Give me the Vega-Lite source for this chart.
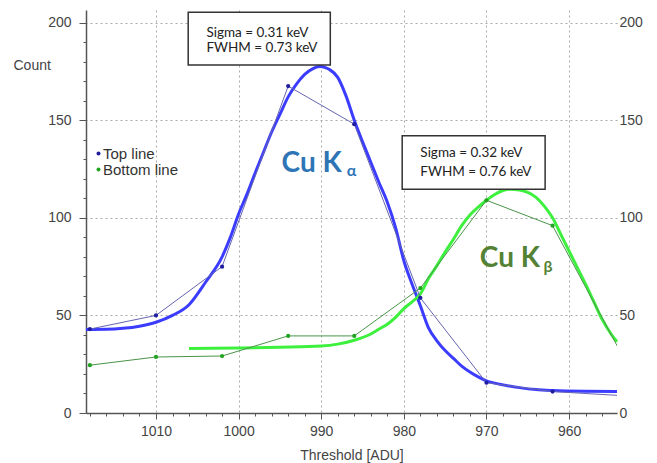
{
  "$schema": "https://vega.github.io/schema/vega-lite/v6.json",
  "width": 531,
  "height": 403,
  "autosize": {"type": "none"},
  "padding": {"left": 86, "top": 10, "right": 40, "bottom": 50},
  "background": "white",
  "config": {
    "view": {"stroke": null},
    "axis": {
      "labelFont": "Liberation Sans", "titleFont": "Liberation Sans",
      "labelFontSize": 14, "titleFontSize": 14, "titleFontWeight": "normal",
      "labelColor": "#444", "titleColor": "#444",
      "domainColor": "#555", "domainWidth": 1.5, "tickColor": "#555", "tickWidth": 1,
      "gridColor": "#aaa", "gridDash": [2, 3], "gridWidth": 1
    }
  },
  "datasets": {
    "pts": [
      {"s": "Top line", "x": 1018, "y": 43}, {"s": "Top line", "x": 1010, "y": 50}, {"s": "Top line", "x": 1002, "y": 75},
      {"s": "Top line", "x": 994, "y": 167.5}, {"s": "Top line", "x": 986, "y": 148}, {"s": "Top line", "x": 978, "y": 59},
      {"s": "Top line", "x": 970, "y": 15.5}, {"s": "Top line", "x": 962, "y": 11}, {"s": "Top line", "x": 954, "y": 9},
      {"s": "Bottom line", "x": 1018, "y": 24.5}, {"s": "Bottom line", "x": 1010, "y": 28.7}, {"s": "Bottom line", "x": 1002, "y": 29.2},
      {"s": "Bottom line", "x": 994, "y": 39.5}, {"s": "Bottom line", "x": 986, "y": 39.5}, {"s": "Bottom line", "x": 978, "y": 64},
      {"s": "Bottom line", "x": 970, "y": 109}, {"s": "Bottom line", "x": 962, "y": 96}, {"s": "Bottom line", "x": 954, "y": 33}
    ],
    "fit": [
      {"s": "Top", "x": 1018.47, "y": 42.8}, {"s": "Top", "x": 1016, "y": 42.9}, {"s": "Top", "x": 1014, "y": 43.4},
      {"s": "Top", "x": 1012, "y": 44.5}, {"s": "Top", "x": 1010, "y": 46.5}, {"s": "Top", "x": 1008, "y": 50},
      {"s": "Top", "x": 1006, "y": 55.5}, {"s": "Top", "x": 1004, "y": 67}, {"s": "Top", "x": 1002, "y": 80},
      {"s": "Top", "x": 1001, "y": 90}, {"s": "Top", "x": 1000, "y": 102}, {"s": "Top", "x": 999, "y": 112},
      {"s": "Top", "x": 998, "y": 123}, {"s": "Top", "x": 997, "y": 133.5}, {"s": "Top", "x": 996, "y": 144},
      {"s": "Top", "x": 995, "y": 153}, {"s": "Top", "x": 994, "y": 162}, {"s": "Top", "x": 993, "y": 168.5},
      {"s": "Top", "x": 992, "y": 173.5}, {"s": "Top", "x": 991, "y": 176.5}, {"s": "Top", "x": 990.2, "y": 177.5},
      {"s": "Top", "x": 989.5, "y": 177}, {"s": "Top", "x": 989, "y": 176}, {"s": "Top", "x": 988, "y": 172},
      {"s": "Top", "x": 987, "y": 162.5}, {"s": "Top", "x": 986, "y": 150}, {"s": "Top", "x": 985, "y": 139},
      {"s": "Top", "x": 984, "y": 128.5}, {"s": "Top", "x": 983, "y": 118}, {"s": "Top", "x": 982, "y": 108},
      {"s": "Top", "x": 981, "y": 95}, {"s": "Top", "x": 980, "y": 78}, {"s": "Top", "x": 979, "y": 66},
      {"s": "Top", "x": 978, "y": 55}, {"s": "Top", "x": 977, "y": 43.5}, {"s": "Top", "x": 976, "y": 37},
      {"s": "Top", "x": 975, "y": 32}, {"s": "Top", "x": 974, "y": 28}, {"s": "Top", "x": 973, "y": 24},
      {"s": "Top", "x": 972, "y": 21}, {"s": "Top", "x": 971, "y": 18.5}, {"s": "Top", "x": 970, "y": 16.5},
      {"s": "Top", "x": 969, "y": 15.3}, {"s": "Top", "x": 968, "y": 14.4}, {"s": "Top", "x": 966, "y": 13},
      {"s": "Top", "x": 964, "y": 12}, {"s": "Top", "x": 962, "y": 11.5}, {"s": "Top", "x": 958, "y": 11.1},
      {"s": "Top", "x": 954.2, "y": 11},
      {"s": "Bottom", "x": 1006, "y": 33}, {"s": "Bottom", "x": 1000, "y": 33.3}, {"s": "Bottom", "x": 995, "y": 33.7},
      {"s": "Bottom", "x": 990, "y": 34.3}, {"s": "Bottom", "x": 988, "y": 35.3}, {"s": "Bottom", "x": 986, "y": 37.3},
      {"s": "Bottom", "x": 984, "y": 40.5}, {"s": "Bottom", "x": 983, "y": 43}, {"s": "Bottom", "x": 982, "y": 45.5},
      {"s": "Bottom", "x": 981, "y": 49}, {"s": "Bottom", "x": 980, "y": 53.5}, {"s": "Bottom", "x": 979, "y": 57},
      {"s": "Bottom", "x": 978, "y": 61}, {"s": "Bottom", "x": 977, "y": 69}, {"s": "Bottom", "x": 976, "y": 75.5},
      {"s": "Bottom", "x": 975, "y": 82.5}, {"s": "Bottom", "x": 974, "y": 89}, {"s": "Bottom", "x": 973, "y": 96},
      {"s": "Bottom", "x": 972, "y": 101.5}, {"s": "Bottom", "x": 971, "y": 105.5}, {"s": "Bottom", "x": 970, "y": 109},
      {"s": "Bottom", "x": 969, "y": 112}, {"s": "Bottom", "x": 968, "y": 114}, {"s": "Bottom", "x": 967.2, "y": 114.6},
      {"s": "Bottom", "x": 966, "y": 114.2}, {"s": "Bottom", "x": 965, "y": 113}, {"s": "Bottom", "x": 964, "y": 110.5},
      {"s": "Bottom", "x": 963, "y": 106}, {"s": "Bottom", "x": 962, "y": 100}, {"s": "Bottom", "x": 961, "y": 91.5},
      {"s": "Bottom", "x": 960, "y": 83}, {"s": "Bottom", "x": 959, "y": 74.5}, {"s": "Bottom", "x": 958, "y": 66},
      {"s": "Bottom", "x": 957, "y": 57}, {"s": "Bottom", "x": 956, "y": 48}, {"s": "Bottom", "x": 955, "y": 41},
      {"s": "Bottom", "x": 954.2, "y": 36.5}
    ],
    "box": [
      {"x": 1006.1, "x2": 988.9, "y": 205.3, "y2": 178.3},
      {"x": 980.2, "x2": 962.9, "y": 142.1, "y2": 114.6}
    ],
    "boxtext": [
      {"x": 1003.9, "y": 192.8, "t": "Sigma = 0.31 keV"},
      {"x": 1003.9, "y": 185.1, "t": "FWHM = 0.73 keV"},
      {"x": 978.0, "y": 131.0, "t": "Sigma = 0.32 keV"},
      {"x": 978.0, "y": 121.6, "t": "FWHM = 0.76 keV"}
    ],
    "big": [
      {"x": 994.8, "y": 123.6, "t": "Cu K", "g": "a"},
      {"x": 970.8, "y": 75.0, "t": "Cu K", "g": "b"}
    ],
    "sub": [
      {"x": 986.9, "y": 121.4, "t": "α", "g": "a"},
      {"x": 963.1, "y": 72.4, "t": "β", "g": "b"}
    ]
  },
  "encoding": {
    "x": {"field": "x", "type": "quantitative", "scale": {"domain": [954.2, 1018.47], "reverse": true, "nice": false, "zero": false}, "axis": null},
    "y": {"field": "y", "type": "quantitative", "scale": {"domain": [0, 206.5], "nice": false, "zero": false}, "axis": null}
  },
  "layer": [
    {
      "data": {"name": "fit"},
      "transform": [{"filter": "datum.s === 'Top'"}],
      "mark": {"type": "line", "color": "#3c3cff", "strokeWidth": 3, "interpolate": "monotone"},
      "encoding": {
        "x": {"field": "x", "type": "quantitative", "scale": {"domain": [954.2, 1018.47], "reverse": true, "nice": false, "zero": false},
          "axis": {"orient": "bottom", "values": [960, 970, 980, 990, 1000, 1010], "format": "d", "grid": true, "tickSize": 6, "labelPadding": 5,
            "title": "Threshold [ADU]", "titleY": 35, "titleBaseline": "top"}},
        "y": {"field": "y", "type": "quantitative", "scale": {"domain": [0, 206.5], "nice": false, "zero": false},
          "axis": {"orient": "left", "values": [0, 50, 100, 150, 200], "grid": true, "tickSize": 7, "labelPadding": 8,
            "title": "Count", "titleAngle": 0, "titleX": -73, "titleY": 55, "titleAlign": "left", "titleBaseline": "middle"}}
      }
    },
    {
      "data": {"name": "fit"},
      "transform": [{"filter": "datum.s === 'Bottom'"}],
      "mark": {"type": "line", "color": "#3ef03e", "strokeWidth": 3, "interpolate": "monotone"},
      "encoding": {
        "x": {"field": "x", "type": "quantitative", "scale": {"domain": [954.2, 1018.47], "reverse": true, "nice": false, "zero": false},
          "axis": {"orient": "bottom", "values": [956, 958, 962, 964, 966, 968, 972, 974, 976, 978, 982, 984, 986, 988, 992, 994, 996, 998, 1002, 1004, 1006, 1008, 1012, 1014, 1016, 1018],
            "grid": false, "domain": false, "labels": false, "tickSize": 3, "title": null}},
        "y": {"field": "y", "type": "quantitative", "scale": {"domain": [0, 206.5], "nice": false, "zero": false},
          "axis": {"orient": "left", "values": [10, 20, 30, 40, 60, 70, 80, 90, 110, 120, 130, 140, 160, 170, 180, 190],
            "grid": false, "domain": false, "labels": false, "tickSize": 3, "title": null}}
      }
    },
    {
      "data": {"name": "pts"},
      "transform": [{"filter": "datum.s === 'Top line'"}],
      "mark": {"type": "line", "color": "#6565b0", "strokeWidth": 1, "clip": true},
      "encoding": {
        "y": {"field": "y", "type": "quantitative", "scale": {"domain": [0, 206.5], "nice": false, "zero": false},
          "axis": {"orient": "right", "values": [0, 50, 100, 150, 200], "grid": false, "domain": false, "ticks": false, "labelPadding": 2, "title": null}}
      }
    },
    {
      "data": {"name": "pts"},
      "transform": [{"filter": "datum.s === 'Bottom line'"}],
      "mark": {"type": "line", "color": "#4a944a", "strokeWidth": 1, "clip": true}
    },
    {
      "data": {"name": "pts"},
      "transform": [{"filter": "datum.x > 955"}],
      "mark": {"type": "circle", "size": 18, "opacity": 1},
      "encoding": {
        "color": {"field": "s", "type": "nominal",
          "scale": {"domain": ["Top line", "Bottom line"], "range": ["#1e1e9e", "#22a322"]},
          "legend": {"orient": "none", "legendX": 5, "legendY": 136, "title": null, "padding": 0,
            "labelFont": "Liberation Sans", "labelFontSize": 15, "labelColor": "#333",
            "symbolSize": 16, "symbolType": "circle", "rowPadding": -5, "labelOffset": -3}}
      }
    },
    {
      "data": {"name": "box"},
      "mark": {"type": "rect", "fill": "white", "stroke": "#333", "strokeWidth": 1.5},
      "encoding": {
        "x2": {"field": "x2"},
        "y2": {"field": "y2"}
      }
    },
    {
      "data": {"name": "boxtext"},
      "mark": {"type": "text", "font": "Lato", "fontSize": 13.5, "align": "left", "baseline": "alphabetic", "color": "#222"},
      "encoding": {"text": {"field": "t"}}
    },
    {
      "data": {"name": "big"},
      "mark": {"type": "text", "font": "Lato", "fontSize": 28, "fontWeight": "bold", "align": "left", "baseline": "alphabetic"},
      "encoding": {
        "text": {"field": "t"},
        "fill": {"field": "g", "type": "nominal", "scale": {"domain": ["a", "b"], "range": ["#2e75b6", "#548235"]}, "legend": null}
      }
    },
    {
      "data": {"name": "sub"},
      "mark": {"type": "text", "font": "Lato", "fontSize": 16, "fontWeight": "bold", "align": "left", "baseline": "alphabetic"},
      "encoding": {
        "text": {"field": "t"},
        "fill": {"field": "g", "type": "nominal", "scale": {"domain": ["a", "b"], "range": ["#2e75b6", "#548235"]}, "legend": null}
      }
    }
  ],
  "resolve": {"axis": {"x": "independent", "y": "independent"}}
}
